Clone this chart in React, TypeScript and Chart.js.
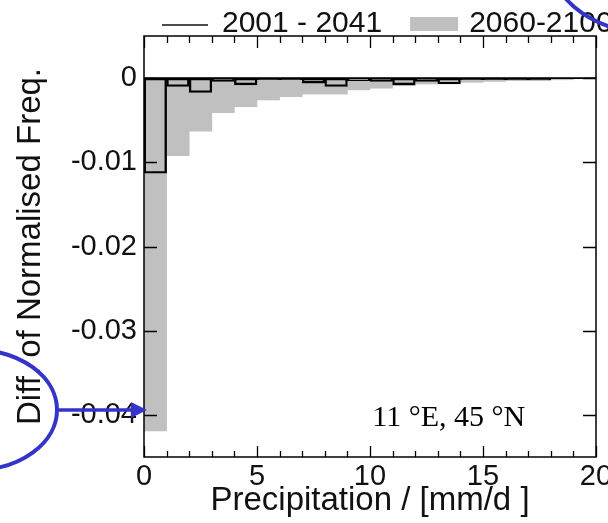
import React, { useEffect, useRef } from "react";
import { Chart, registerables } from "chart.js";

Chart.register(...registerables);

// ---- data ----
const binStarts = [0, 1, 2, 3, 4, 5, 6, 7, 8, 9, 10, 11, 12, 13, 14, 15, 16, 17, 18, 19];
const binWidth = 1;
const series2001 = [
  -0.0113, -0.001, -0.0017, -0.0004, -0.0008, -0.0002, -0.0002, -0.0006, -0.001, -0.0003,
  -0.0004, -0.0008, -0.0004, -0.0007, -0.0002, -0.0002, -0.0002, -0.0002, 0, 0,
];
const series2060 = [
  -0.0419, -0.0092, -0.0063, -0.0041, -0.0034, -0.0026, -0.0022, -0.0019, -0.0019, -0.0014,
  -0.0012, -0.0009, -0.0007, -0.0006, -0.0005, -0.0004, -0.0003, -0.0003, -0.0002, 0,
];
const legendLabels = ["2001 - 2041", "2060-2100"];
const xTickValues = [0, 5, 10, 15, 20];
const yTickValues = [0, -0.01, -0.02, -0.03, -0.04];
const xRange = [0, 20];
const yRange = [-0.045, 0.005];
const xTitle = "Precipitation / [mm/d ]";
const yTitle = "Diff. of Normalised Freq.";
const locationLabel = "11 °E, 45 °N";
const locationAt = [10.1, -0.0413];

const GRAY = "#c0c0c0";
const BLUE = "#3434c8";
const SANS = "'Liberation Sans', Arial, sans-serif";
const SERIF = "'Liberation Serif', 'Times New Roman', serif";

const framePlugin = {
  id: "frameAndDecor",
  afterDatasetsDraw(chart: any) {
    const { ctx, chartArea: a, scales } = chart;
    const x = scales.x;
    const y = scales.y;
    ctx.save();
    ctx.strokeStyle = "#000";
    ctx.lineWidth = 1.6;
    // zero line
    const y0 = y.getPixelForValue(0);
    ctx.beginPath();
    ctx.moveTo(a.left, y0);
    ctx.lineTo(a.right, y0);
    ctx.stroke();
    // frame
    ctx.lineWidth = 1.5;
    ctx.strokeRect(a.left, a.top, a.right - a.left, a.bottom - a.top);
    // x ticks (minor every unit, major at labelled values), top and bottom, inward
    ctx.lineWidth = 1.3;
    for (let v = xRange[0]; v <= xRange[1]; v += 1) {
      const px = Math.round(x.getPixelForValue(v)) + 0.5;
      const major = xTickValues.includes(v);
      const lenB = major ? 11 : 6;
      const lenT = major ? 12 : 7;
      ctx.beginPath();
      ctx.moveTo(px, a.bottom);
      ctx.lineTo(px, a.bottom - lenB);
      ctx.moveTo(px, a.top);
      ctx.lineTo(px, a.top + lenT);
      ctx.stroke();
    }
    // y ticks left and right, inward
    for (const v of yTickValues) {
      const py = Math.round(y.getPixelForValue(v)) + 0.5;
      ctx.beginPath();
      ctx.moveTo(a.left, py);
      ctx.lineTo(a.left + 13, py);
      ctx.moveTo(a.right, py);
      ctx.lineTo(a.right - 13, py);
      ctx.stroke();
    }
    ctx.restore();
  },
  afterDraw(chart: any) {
    const { ctx, chartArea: a, scales } = chart;
    const x = scales.x;
    const y = scales.y;
    ctx.save();
    // legend
    ctx.fillStyle = "#111";
    ctx.strokeStyle = "#111";
    ctx.font = `30px ${SANS}`;
    ctx.textBaseline = "alphabetic";
    ctx.textAlign = "left";
    const lx = a.left + 18;
    ctx.lineWidth = 1.5;
    ctx.beginPath();
    ctx.moveTo(lx, a.top - 11);
    ctx.lineTo(lx + 46, a.top - 11);
    ctx.stroke();
    const t1x = lx + 60;
    ctx.fillText(legendLabels[0], t1x, a.top - 4);
    const w1 = ctx.measureText(legendLabels[0]).width;
    const bx = t1x + w1 + 28;
    ctx.fillStyle = GRAY;
    ctx.fillRect(bx, a.top - 19, 48, 14);
    ctx.fillStyle = "#111";
    ctx.fillText(legendLabels[1], bx + 59, a.top - 4);
    // location annotation
    ctx.font = `30px ${SERIF}`;
    ctx.fillStyle = "#000";
    ctx.fillText(locationLabel, x.getPixelForValue(locationAt[0]), y.getPixelForValue(locationAt[1]));
    // blue hand-drawn highlight marks
    ctx.strokeStyle = BLUE;
    ctx.fillStyle = BLUE;
    ctx.lineWidth = 4;
    const ay = y.getPixelForValue(-0.04) - 5;
    ctx.beginPath();
    ctx.ellipse(-25, ay, 82, 60, 0, -Math.PI / 2, Math.PI / 2);
    ctx.stroke();
    ctx.lineWidth = 3.5;
    ctx.beginPath();
    ctx.moveTo(56, ay);
    ctx.lineTo(a.left - 12, ay);
    ctx.stroke();
    ctx.beginPath();
    ctx.moveTo(a.left + 3, ay);
    ctx.lineTo(a.left - 13, ay - 8);
    ctx.lineTo(a.left - 13, ay + 8);
    ctx.closePath();
    ctx.fill();
    ctx.lineWidth = 4;
    ctx.beginPath();
    ctx.ellipse(660, -40, 110, 75, 0, Math.PI / 2, Math.PI);
    ctx.stroke();
    ctx.restore();
  },
};

export default function App() {
  const ref = useRef<HTMLCanvasElement | null>(null);

  useEffect(() => {
    const canvas = ref.current;
    if (!canvas) return;
    const toPoints = (vals: number[]) =>
      vals.map((v, i) => ({ x: binStarts[i] + binWidth / 2, y: v }));

    const chart = new Chart(canvas, {
      type: "bar",
      data: {
        datasets: [
          {
            label: legendLabels[0],
            data: toPoints(series2001),
            backgroundColor: "rgba(0,0,0,0)",
            borderColor: "#000",
            borderWidth: 1.7,
            borderSkipped: false,
            grouped: false,
            barPercentage: 1,
            categoryPercentage: 1,
            order: 0,
          },
          {
            label: legendLabels[1],
            data: toPoints(series2060),
            backgroundColor: GRAY,
            borderWidth: 0,
            grouped: false,
            barPercentage: 1,
            categoryPercentage: 1,
            order: 1,
          },
        ],
      } as any,
      options: {
        animation: false,
        responsive: false,
        devicePixelRatio: 1,
        layout: { padding: { top: 36, right: 12, bottom: 0, left: 0 } },
        plugins: {
          legend: { display: false },
          tooltip: { enabled: false },
        },
        scales: {
          x: {
            type: "linear",
            min: xRange[0],
            max: xRange[1],
            offset: false,
            grid: { display: false, drawTicks: false, tickLength: 0 },
            border: { display: false },
            afterBuildTicks: (s: any) => {
              s.ticks = xTickValues.map((v) => ({ value: v }));
            },
            afterFit: (s: any) => {
              s.height = 66;
              s.paddingLeft = 0;
              s.paddingRight = 0;
            },
            ticks: {
              autoSkip: false,
              maxRotation: 0,
              padding: 3,
              color: "#111",
              font: { family: SANS, size: 29 },
              callback: (v: any) => String(v),
            },
            title: {
              display: true,
              text: xTitle,
              color: "#111",
              font: { family: SANS, size: 33, lineHeight: 1.2 },
              padding: { top: 0, bottom: 2 },
            },
          },
          y: {
            type: "linear",
            min: yRange[0],
            max: yRange[1],
            grid: { display: false, drawTicks: false, tickLength: 0 },
            border: { display: false },
            afterBuildTicks: (s: any) => {
              s.ticks = yTickValues.map((v) => ({ value: v }));
            },
            afterFit: (s: any) => {
              s.width = 144;
              s.paddingTop = 0;
              s.paddingBottom = 0;
            },
            ticks: {
              autoSkip: false,
              padding: 7,
              color: "#111",
              font: { family: SANS, size: 29 },
              callback: (v: any) => (v === 0 ? "0" : Number(v).toFixed(2)),
            },
            title: {
              display: true,
              text: yTitle,
              color: "#111",
              font: { family: SANS, size: 33, lineHeight: 1.2 },
              padding: { top: 11, bottom: 0 },
            },
          },
        },
      } as any,
      plugins: [framePlugin],
    });
    return () => chart.destroy();
  }, []);

  return (
    <div
      style={{
        position: "fixed",
        left: 0,
        top: 0,
        width: 608,
        height: 523,
        overflow: "hidden",
        background: "#fff",
      }}
    >
      <canvas ref={ref} width={608} height={523} style={{ display: "block" }} />
    </div>
  );
}
